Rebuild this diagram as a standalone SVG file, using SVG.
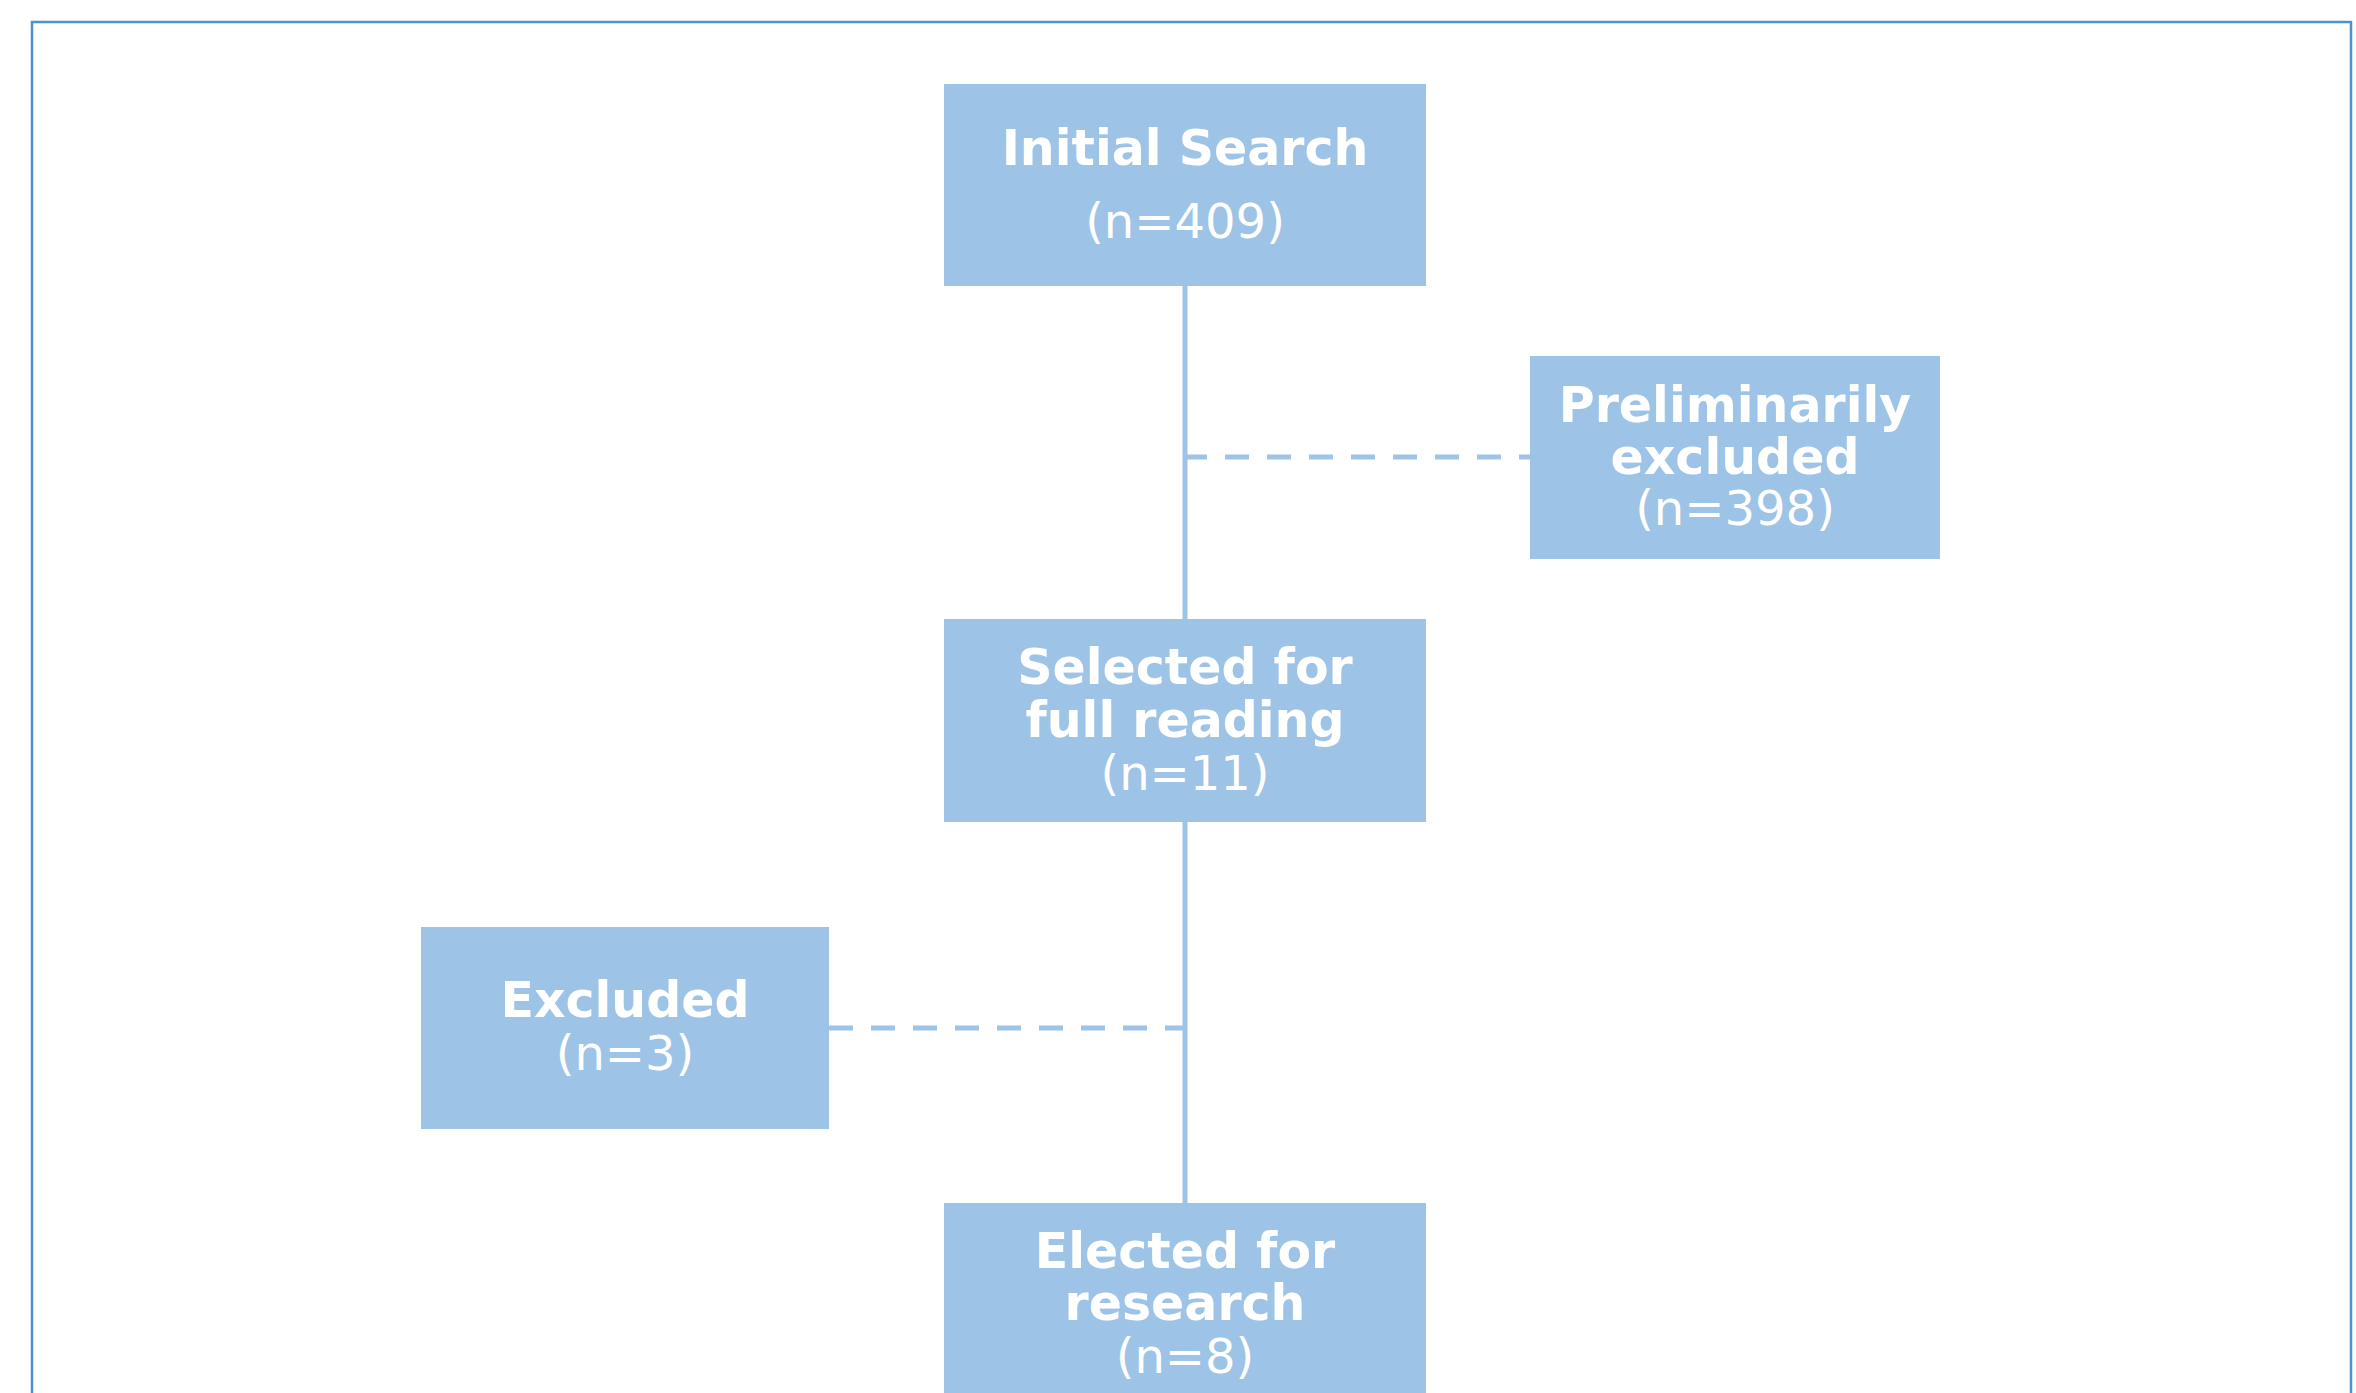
<svg xmlns="http://www.w3.org/2000/svg" width="2356" height="1393" viewBox="0 0 2356 1393">
<style>
.box{fill:#9dc3e6;}
.t{font-family:"DejaVu Sans","Verdana",sans-serif;fill:#ffffff;text-anchor:middle;}
.b{font-weight:bold;font-size:49px;}
.r{font-weight:normal;font-size:48px;}
.solid{stroke:#9dc3e6;stroke-width:5;fill:none;}
.dash{stroke:#9dc3e6;stroke-width:5;fill:none;stroke-dasharray:24 18;}
</style>
<rect x="0" y="0" width="2356" height="1393" fill="#ffffff"/>
<rect x="32" y="22" width="2319" height="1420" fill="none" stroke="#4a93d0" stroke-width="2.5"/>
<g id="connectors">
<line class="solid" x1="1185" y1="286" x2="1185" y2="1203"/>
<line class="dash" x1="1183" y1="457" x2="1530" y2="457"/>
<line class="dash" x1="829" y1="1028" x2="1185" y2="1028"/>
</g>
<g id="initial-search">
<rect class="box" x="944" y="84" width="482" height="202"/>
<text class="t"><tspan class="b" x="1185" y="165">Initial Search</tspan><tspan class="r" x="1185" y="238">(n=409)</tspan></text>
</g>
<g id="preliminarily-excluded">
<rect class="box" x="1530" y="356" width="410" height="203"/>
<text class="t"><tspan class="b" x="1735" y="422">Preliminarily</tspan><tspan class="b" x="1735" y="474">excluded</tspan><tspan class="r" x="1735" y="525">(n=398)</tspan></text>
</g>
<g id="selected">
<rect class="box" x="944" y="619" width="482" height="203"/>
<text class="t"><tspan class="b" x="1185" y="684">Selected for</tspan><tspan class="b" x="1185" y="737">full reading</tspan><tspan class="r" x="1185" y="790">(n=11)</tspan></text>
</g>
<g id="excluded">
<rect class="box" x="421" y="927" width="408" height="202"/>
<text class="t"><tspan class="b" x="625" y="1017">Excluded</tspan><tspan class="r" x="625" y="1070">(n=3)</tspan></text>
</g>
<g id="elected">
<rect class="box" x="944" y="1203" width="482" height="210"/>
<text class="t"><tspan class="b" x="1185" y="1268">Elected for</tspan><tspan class="b" x="1185" y="1320">research</tspan><tspan class="r" x="1185" y="1373">(n=8)</tspan></text>
</g>
</svg>
